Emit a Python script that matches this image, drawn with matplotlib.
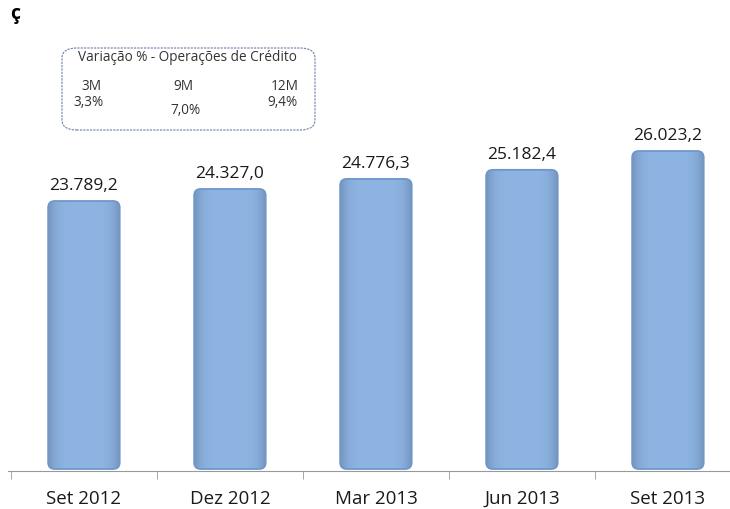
import matplotlib.pyplot as plt
from matplotlib.patches import FancyBboxPatch
import numpy as np

categories = ['Set 2012', 'Dez 2012', 'Mar 2013', 'Jun 2013', 'Set 2013']
values = [23789.2, 24327.0, 24776.3, 25182.4, 26023.2]
labels = ['23.789,2', '24.327,0', '24.776,3', '25.182,4', '26.023,2']
var_periods = ['3M', '9M', '12M']
var_values = ['3,3%', '7,0%', '9,4%']

plt.rcParams['font.family'] = ['Open Sans', 'DejaVu Sans']

fig = plt.figure(figsize=(7.3, 5.09), dpi=100)
ax = fig.add_axes([8 / 730, 38 / 509, 1 - 8 / 730, 1 - 38 / 509 - 30 / 509])

x = np.arange(len(categories))
bars = ax.bar(x, values, width=0.49, color='#8db4e3', edgecolor='none', zorder=2)

xlim = (-0.52, -0.52 + 722 / 146)
ylim = (11720, 11720 + 441 * 44.7)

# light bar fill, a bit darker near the sides, rounded corners
n = 64
g = np.abs(np.linspace(-1, 1, n))
shade = 1 - 0.18 * g ** 5
base = np.array([0x8d, 0xb4, 0xe3]) / 255
img = np.clip(base[None, None, :] * shade[None, :, None], 0, 1)
for b in bars:
    b.set_visible(False)
    x0, w = b.get_x(), b.get_width()
    y0 = ylim[0] + 2 * 44.7
    h = b.get_height()
    patch = FancyBboxPatch((x0, y0), w, h - y0, boxstyle='round,pad=0,rounding_size=0.045',
                           mutation_aspect=44.7 * 146,
                           facecolor='none', edgecolor='#7097cb', linewidth=1.3, zorder=3)
    ax.add_patch(patch)
    im = ax.imshow(img, extent=[x0, x0 + w, y0, h], aspect='auto', zorder=2)
    im.set_clip_path(patch)

for xi, v, lab in zip(x, values, labels):
    ax.annotate(lab, (xi, v), xytext=(0, 5), textcoords='offset points',
                ha='center', va='bottom', fontsize=12.5, color='#1a1a1a')

ax.set_xticks(x)
ax.set_xticklabels(categories, fontsize=13.5, color='#1a1a1a', va='baseline')
ax.set_xticks(np.arange(-0.5, 4, 1), minor=True)
ax.tick_params(axis='x', which='major', length=0, pad=23.5)
ax.tick_params(axis='x', which='minor', length=6, color='#999999')
ax.set_yticks([])
for s in ['top', 'right', 'left']:
    ax.spines[s].set_visible(False)
ax.spines['bottom'].set_color('#999999')

# limits last, so the ticks do not widen them
ax.set_xlim(*xlim)
ax.set_ylim(*ylim)

# variation box
box = FancyBboxPatch((62 / 730, 1 - 130 / 509), 253 / 730, 82 / 509,
                     boxstyle='round,pad=0,rounding_size=0.02', transform=fig.transFigure,
                     facecolor='white', edgecolor='#6b7fa8', linewidth=0.8, linestyle=(0, (2, 1)))
fig.add_artist(box)
fig.text(187 / 730, 1 - 58 / 509, 'Variação % - Operações de Crédito', ha='center', va='center',
         fontsize=9.8, color='#333333')
px = [92, 183, 285]
vy = [102, 110, 103]
vx = [88, 185, 282]
for p, v, xp, xv, yv in zip(var_periods, var_values, px, vx, vy):
    fig.text(xp / 730, 1 - 87 / 509, p, ha='center', va='center', fontsize=9.8, color='#333333')
    fig.text(xv / 730, 1 - yv / 509, v, ha='center', va='center', fontsize=9.8, color='#333333')

fig.text(10 / 730, 1 - 4 / 509, 'ç', ha='left', va='top', fontsize=14, fontweight='bold')

fig.savefig('out.png', dpi=100)
